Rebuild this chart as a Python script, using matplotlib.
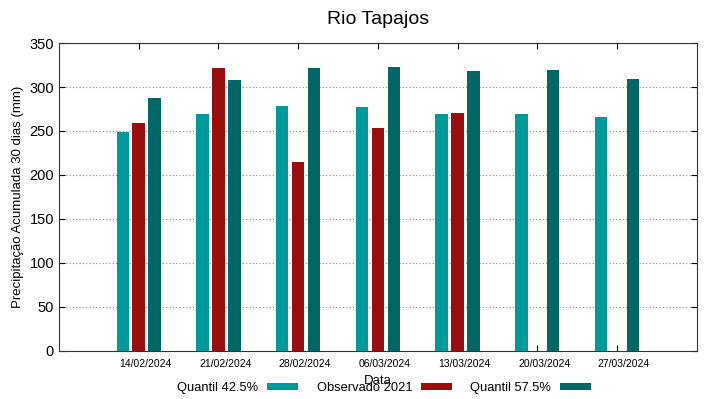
import numpy as np
import matplotlib
matplotlib.use("Agg")
import matplotlib.pyplot as plt
import matplotlib.transforms as mtransforms

plt.rcParams['font.family'] = ['Liberation Sans', 'DejaVu Sans']

# dados
datas = ['14/02/2024', '21/02/2024', '28/02/2024', '06/03/2024',
         '13/03/2024', '20/03/2024', '27/03/2024']
quantil_425 = [249, 269, 278, 277, 269, 269, 266]
observado_2021 = [259, 322, 215, 253, 270, np.nan, np.nan]
quantil_575 = [288, 308, 322, 323, 318, 319, 309]

x = np.arange(len(datas))
w = 0.155

fig = plt.figure(figsize=(7.19, 3.99), dpi=100)
ax = fig.add_axes([0.082, 0.121, 0.887, 0.771])

ax.bar(x - 0.2, quantil_425, w, color='#009999', label='Quantil 42.5%', zorder=3)
ax.bar(x, observado_2021, w, color='#990f0f', label='Observado 2021', zorder=3)
ax.bar(x + 0.2, quantil_575, w, color='#006666', label='Quantil 57.5%', zorder=3)

ax.set_xlim(-1, 7)
ax.set_ylim(0, 350)
ax.set_xticks(x)
ax.set_xticklabels(datas, fontsize=7.5)
ax.set_yticks(range(0, 351, 50))
ax.tick_params(axis='y', labelsize=10.5, direction='in', right=True, length=4)
ax.tick_params(axis='x', direction='in', top=True, length=4, pad=6)
# rotulos levemente deslocados como no original
offset = mtransforms.ScaledTranslation(7 / 100, 0, fig.dpi_scale_trans)
for lbl in ax.get_xticklabels():
    lbl.set_transform(lbl.get_transform() + offset)

ax.yaxis.grid(True, linestyle=(0, (1, 2)), color='#888888', linewidth=0.8)
ax.set_axisbelow(True)
for s in ax.spines.values():
    s.set_color('#333333')

ax.set_title('Rio Tapajos', fontsize=14, pad=14)
ax.set_ylabel('Precipitação Acumulada 30 dias (mm)', fontsize=9.5)
ax.set_xlabel('Data', fontsize=9.5, labelpad=4)

ax.legend(loc='center', bbox_to_anchor=(0.51, -0.121), ncol=3, frameon=False,
          markerfirst=False, fontsize=9.3, handlelength=2.4, handleheight=0.5,
          columnspacing=1.4, handletextpad=0.7, borderpad=0.1)

fig.savefig('out.png', dpi=100)
